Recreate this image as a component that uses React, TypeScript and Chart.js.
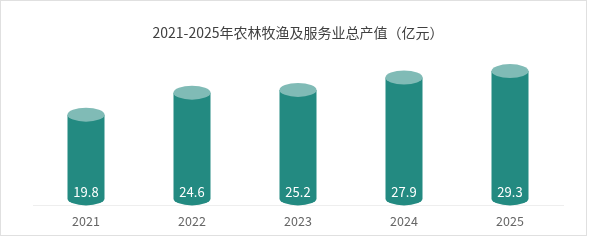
import React, { useEffect, useRef } from "react";
import { Chart, registerables } from "chart.js";

Chart.register(...registerables);

const categories = ["2021", "2022", "2023", "2024", "2025"];
const values = [19.8, 24.6, 25.2, 27.9, 29.3];
const titleText = "2021-2025年农林牧渔及服务业总产值（亿元）";
const yMin = 0;
const yMax = 35;

const BODY_COLOR = "#238a81";
const TOP_COLOR = "#80bbb6";
const FONT = "'Noto Sans CJK SC', 'Noto Sans', sans-serif";

const cylinderPlugin = {
  id: "cylinder",
  afterDatasetsDraw(chart: any) {
    const ctx = chart.ctx as CanvasRenderingContext2D;
    const meta = chart.getDatasetMeta(0);
    meta.data.forEach((bar: any, i: number) => {
      const { x, y, base, width } = bar.getProps(["x", "y", "base", "width"], true);
      const rx = width / 2;
      const ry = 7;
      const bottomC = base - ry;
      ctx.save();
      ctx.fillStyle = BODY_COLOR;
      ctx.beginPath();
      ctx.moveTo(x - rx, y);
      ctx.lineTo(x - rx, bottomC);
      ctx.ellipse(x, bottomC, rx, ry, 0, Math.PI, 0, true);
      ctx.lineTo(x + rx, y);
      ctx.closePath();
      ctx.fill();
      ctx.fillStyle = TOP_COLOR;
      ctx.beginPath();
      ctx.ellipse(x, y, rx, ry, 0, 0, Math.PI * 2);
      ctx.fill();
      ctx.fillStyle = "#ffffff";
      ctx.font = `13px ${FONT}`;
      ctx.textAlign = "center";
      ctx.textBaseline = "middle";
      ctx.fillText(String(values[i]), x, base - 13);
      ctx.restore();
    });
  },
};

export default function App() {
  const ref = useRef<HTMLCanvasElement>(null);
  useEffect(() => {
    if (!ref.current) return;
    const chart = new Chart(ref.current, {
      type: "bar",
      data: {
        labels: categories,
        datasets: [
          {
            data: values,
            backgroundColor: "rgba(0,0,0,0)",
            borderWidth: 0,
            barThickness: 37,
          },
        ],
      },
      options: {
        responsive: false,
        animation: false,
        devicePixelRatio: 1,
        layout: { padding: { left: 32, right: 23, top: 0, bottom: -1.4 } },
        plugins: {
          legend: { display: false },
          tooltip: { enabled: false },
          title: {
            display: true,
            text: titleText,
            color: "#404040",
            font: { family: FONT, size: 14, weight: "normal" },
            padding: { top: 23, bottom: 4.2 },
          },
        },
        scales: {
          x: {
            grid: { display: false, drawTicks: false },
            border: { display: true, color: "#eeeeee" },
            ticks: { color: "#666666", font: { family: FONT, size: 12.5 }, padding: 8 },
          },
          y: { display: false, min: yMin, max: yMax },
        },
      },
      plugins: [cylinderPlugin],
    });
    return () => chart.destroy();
  }, []);
  return (
    <div
      style={{
        position: "absolute",
        left: 0,
        top: 0,
        width: 587,
        height: 236,
        border: "1px solid #e0e0e0",
        boxSizing: "border-box",
        background: "#fff",
      }}
    >
      <canvas ref={ref} width={585} height={234} style={{ display: "block" }} />
    </div>
  );
}
